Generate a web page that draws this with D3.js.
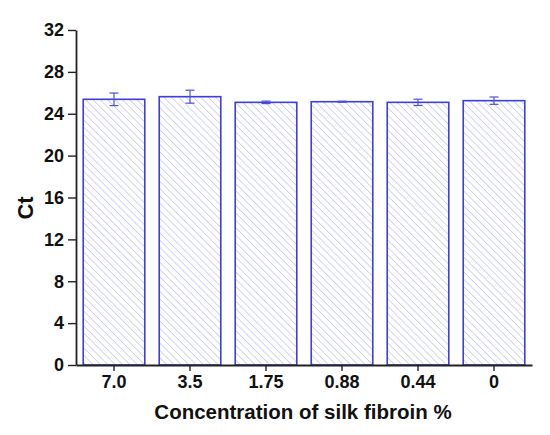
<!DOCTYPE html>
<html>
<head>
<meta charset="utf-8">
<script src="https://cdn.jsdelivr.net/npm/d3@7"></script>
<style>
  html, body { margin: 0; padding: 0; background: #fff; }
  svg { display: block; }
  text { font-family: "Liberation Sans", Arial, sans-serif; font-weight: bold; fill: #111; }
</style>
</head>
<body>
<svg id="chart" width="550" height="435"></svg>
<script>
const categories = ["7.0", "3.5", "1.75", "0.88", "0.44", "0"];
const ctValues = [25.38, 25.63, 25.09, 25.15, 25.09, 25.25];
const ctErrors = [0.60, 0.62, 0.12, 0.05, 0.30, 0.35];
const yTicks = [0, 4, 8, 12, 16, 20, 24, 28, 32];
const xTitle = "Concentration of silk fibroin %";
const yTitle = "Ct";

const svg = d3.select("#chart");
const plotLeft = 76, plotRight = 532, plotTop = 30, plotBottom = 365;

const defs = svg.append("defs");
const pat = defs.append("pattern")
  .attr("id", "hatch")
  .attr("patternUnits", "userSpaceOnUse")
  .attr("width", 5.2).attr("height", 5.2)
  .attr("patternTransform", "rotate(-45)");
pat.append("rect").attr("width", 5.2).attr("height", 5.2).attr("fill", "#fff");
pat.append("line")
  .attr("x1", 0).attr("y1", 0).attr("x2", 0).attr("y2", 5.2)
  .attr("stroke", "#a9a9ec").attr("stroke-width", 1);

const x = d3.scaleBand().domain(categories).range([plotLeft, plotRight])
  .paddingInner(0.19).paddingOuter(0.095);
const y = d3.scaleLinear().domain([0, 32]).range([plotBottom, plotTop]);

const data = categories.map((c, i) => ({ c, v: ctValues[i], e: ctErrors[i] }));

// bars
svg.append("g").selectAll("rect").data(data).join("rect")
  .attr("x", d => x(d.c))
  .attr("y", d => y(d.v))
  .attr("width", x.bandwidth())
  .attr("height", d => y(0) - y(d.v))
  .attr("fill", "url(#hatch)")
  .attr("stroke", "#3d3de0")
  .attr("stroke-width", 1.6);

// error bars
const eg = svg.append("g").attr("stroke", "#5050dd").attr("stroke-width", 1.2);
data.forEach(d => {
  const cx = x(d.c) + x.bandwidth() / 2;
  eg.append("line").attr("x1", cx).attr("x2", cx).attr("y1", y(d.v + d.e)).attr("y2", y(d.v - d.e));
  eg.append("line").attr("x1", cx - 4.5).attr("x2", cx + 4.5).attr("y1", y(d.v + d.e)).attr("y2", y(d.v + d.e));
  eg.append("line").attr("x1", cx - 4.5).attr("x2", cx + 4.5).attr("y1", y(d.v - d.e)).attr("y2", y(d.v - d.e));
});

// y axis
const yAxis = svg.append("g").attr("transform", `translate(${plotLeft},0)`)
  .call(d3.axisLeft(y).tickValues(yTicks).tickSize(8).tickPadding(4).tickSizeOuter(0));
yAxis.select(".domain").attr("stroke", "#222").attr("stroke-width", 1.8);
yAxis.selectAll(".tick line").attr("stroke", "#222").attr("stroke-width", 1.4);
yAxis.selectAll(".tick text").style("font-size", "18px").attr("fill", "#111");

// x axis
const xAxis = svg.append("g").attr("transform", `translate(0,${plotBottom})`)
  .call(d3.axisBottom(x).tickSize(6).tickPadding(4).tickSizeOuter(0));
xAxis.select(".domain").attr("stroke", "#222").attr("stroke-width", 1.8);
xAxis.selectAll(".tick line").attr("stroke", "#222").attr("stroke-width", 1.4);
xAxis.selectAll(".tick text").style("font-size", "18px").attr("fill", "#111");

// titles
svg.append("text")
  .attr("x", (plotLeft + plotRight) / 2 - 1).attr("y", 419)
  .attr("text-anchor", "middle")
  .style("font-size", "20.5px")
  .text(xTitle);

svg.append("text")
  .attr("transform", `translate(33,208) rotate(-90)`)
  .attr("text-anchor", "middle")
  .style("font-size", "22px")
  .text(yTitle);
</script>
</body>
</html>
